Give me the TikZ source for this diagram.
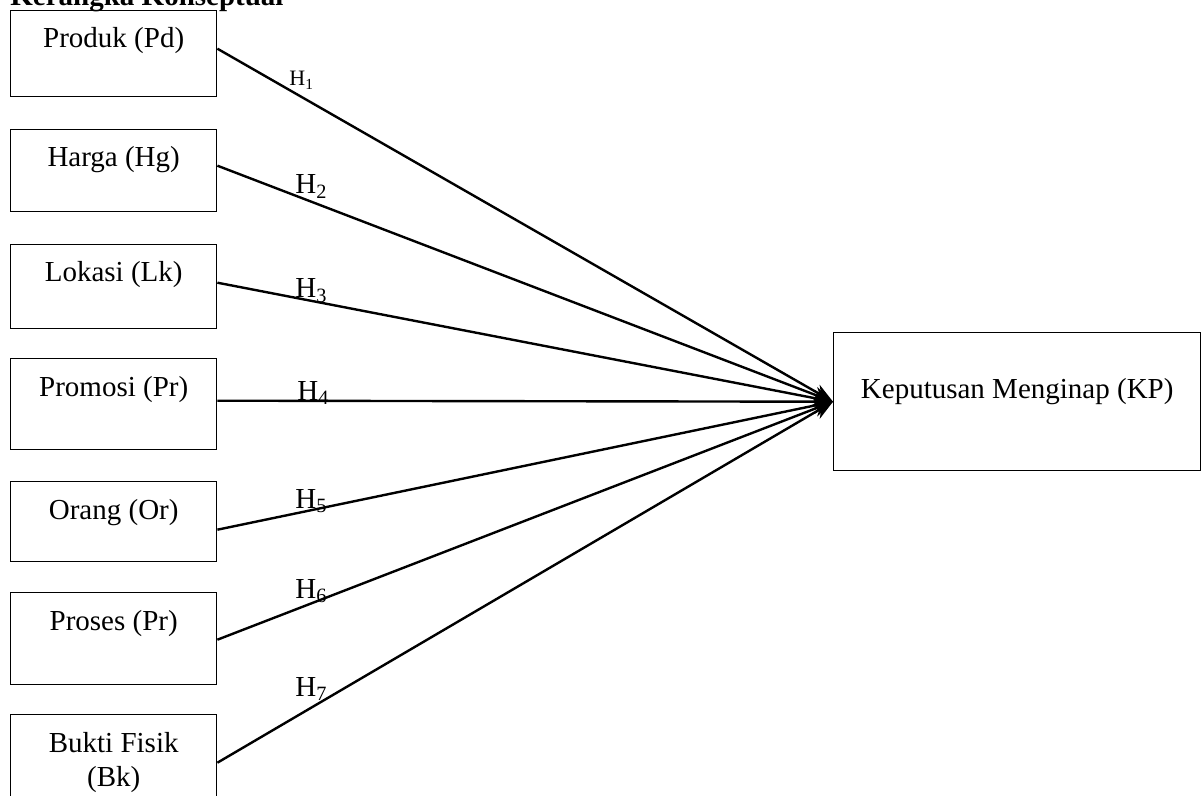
\documentclass[tikz,border=0pt]{standalone}
\usepackage{fontspec}
\setmainfont{Liberation Serif}
\usetikzlibrary{arrows.meta}

\tikzset{
  varbox/.style={draw, line width=0.7pt, minimum width=103pt, inner sep=0pt, anchor=north west},
  boxtext/.style={anchor=base, inner sep=0pt, align=center, yshift=#1},
  boxtext/.default=-19pt,
  hyp/.style={line width=1.2pt, -{Stealth[length=10pt,width=8pt]}},
  hlabel/.style={anchor=base west, inner sep=0pt},
}

\begin{document}
\begin{tikzpicture}[x=0.5pt, y=-0.5pt, font=\fontsize{14.5}{17}\selectfont]
\useasboundingbox (0,0) rectangle (1203,796);

\node [anchor=base west, inner sep=0pt, font=\fontsize{14.5}{17}\selectfont\bfseries] (judul) at (10,6) {Kerangka Konseptual};

% variabel bebas
\node [varbox, minimum height=43pt, label={[boxtext]north:Produk (Pd)}] (pd) at (10,10) {};
\node [varbox, minimum height=41pt, label={[boxtext]north:Harga (Hg)}] (hg) at (10,129) {};
\node [varbox, minimum height=42pt, label={[boxtext]north:Lokasi (Lk)}] (lk) at (10,244) {};
\node [varbox, minimum height=45.5pt, label={[boxtext]north:Promosi (Pr)}] (pr) at (10,358) {};
\node [varbox, minimum height=40pt, label={[boxtext]north:Orang (Or)}] (or) at (10,481) {};
\node [varbox, minimum height=46pt, label={[boxtext]north:Proses (Pr)}] (ps) at (10,592) {};
\node [varbox, minimum height=50pt, label={[boxtext=-36pt]north:Bukti Fisik\\(Bk)}] (bk) at (10,714) {};

% variabel terikat
\node [varbox, minimum width=183.5pt, minimum height=69pt, label={[boxtext=-33pt]north:Keputusan Menginap (KP)}] (kp) at (833,332) {};

\draw [hyp] ([yshift=2.5pt]pd.east) -- (kp.west);
\draw [hyp] ([yshift=2.5pt]hg.east) -- (kp.west);
\draw [hyp] ([yshift=2pt]lk.east) -- (kp.west);
\draw [hyp] ([yshift=1.75pt]pr.east) -- (kp.west);
\draw [hyp] ([yshift=-4pt]or.east) -- (kp.west);
\draw [hyp] ([yshift=-0.5pt]ps.east) -- (kp.west);
\draw [hyp] ([yshift=1pt]bk.east) -- (kp.west);

\node [hlabel, font=\fontsize{11}{13}\selectfont] (h1) at (289,86) {H\textsubscript{1}};
\node [hlabel] (h2) at (295,194) {H\textsubscript{2}};
\node [hlabel] (h3) at (295,298) {H\textsubscript{3}};
\node [hlabel] (h4) at (297,400) {H\textsubscript{4}};
\node [hlabel] (h5) at (295,508) {H\textsubscript{5}};
\node [hlabel] (h6) at (295,598) {H\textsubscript{6}};
\node [hlabel] (h7) at (295,696) {H\textsubscript{7}};
\end{tikzpicture}
\end{document}
